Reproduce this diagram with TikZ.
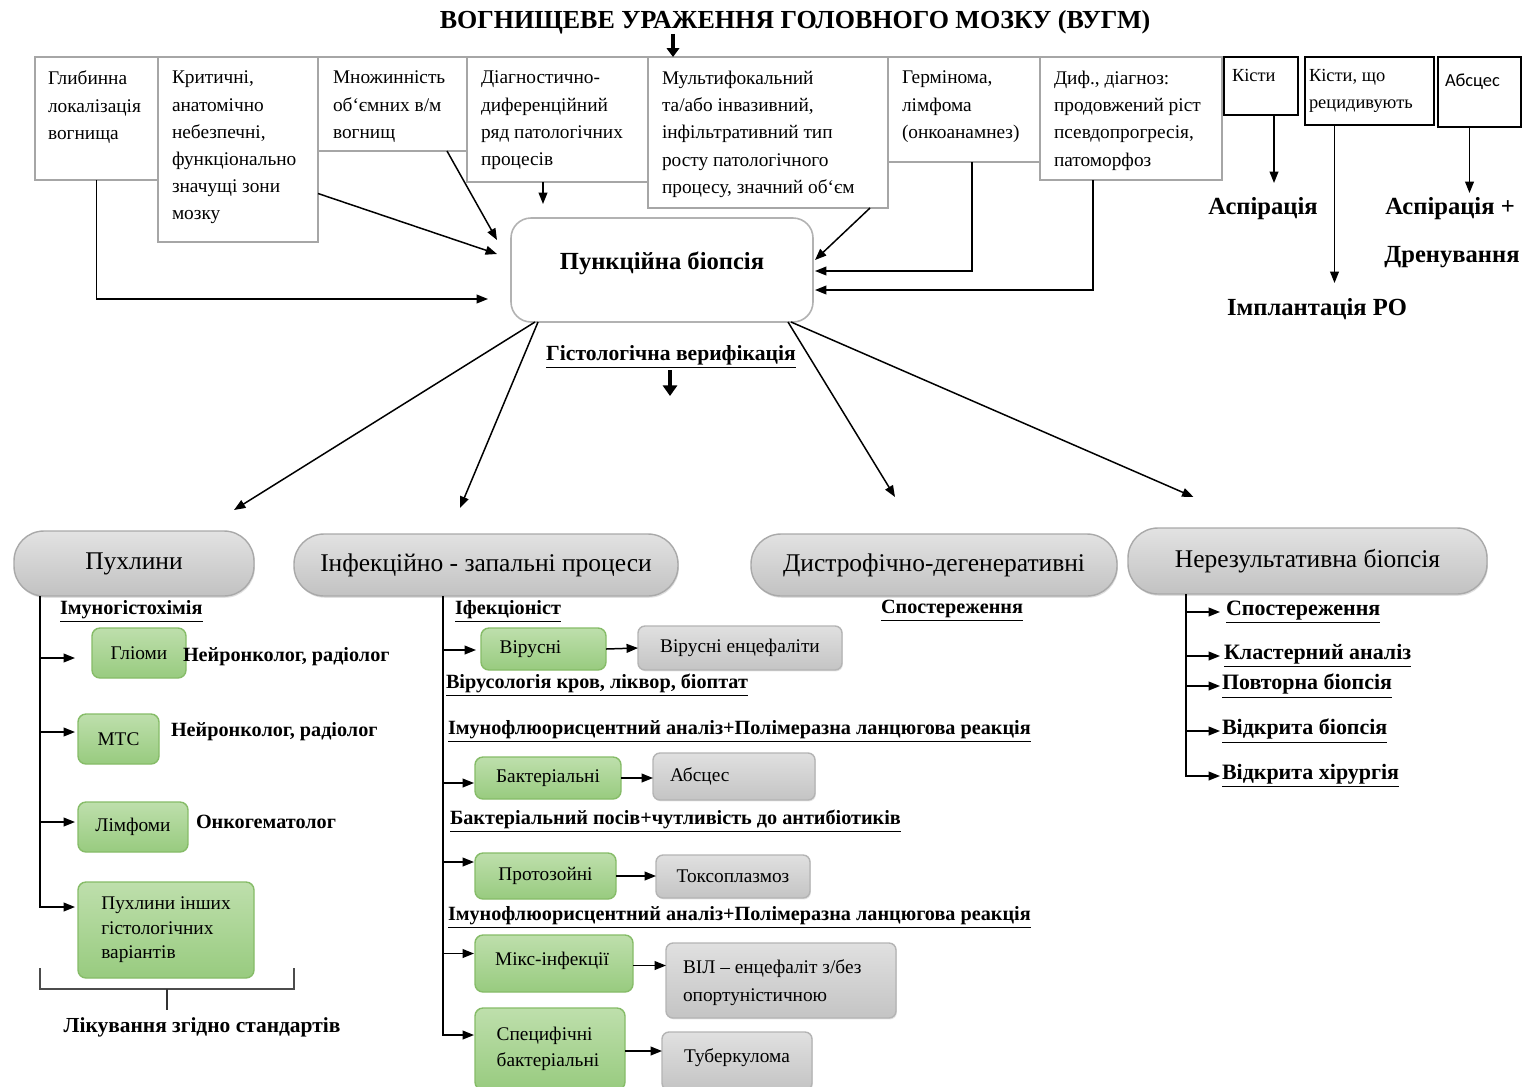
\documentclass[tikz,border=0pt]{standalone}
\usepackage{fontspec}
\setmainfont{Liberation Serif}
\newfontfamily\calibfont{Carlito}
\usetikzlibrary{arrows.meta,calc,fit,shadows}
\definecolor{gtop}{HTML}{BEDFAC}
\definecolor{gbot}{HTML}{98CB7F}
\definecolor{gdraw}{HTML}{86BC68}
\definecolor{stop}{HTML}{E0E0E0}
\definecolor{sbot}{HTML}{C4C4C4}
\definecolor{sdraw}{HTML}{B4B4B4}
\definecolor{ptop}{HTML}{E2E2E2}
\definecolor{pbot}{HTML}{C2C2C2}
\definecolor{pdraw}{HTML}{A9A9A9}
\definecolor{bxdraw}{HTML}{A6A6A6}
\begin{document}
\begin{tikzpicture}[x=0.02cm,y=-0.02cm,
  every node/.style={inner sep=0pt, outer sep=0pt},
  topbox/.style={draw=bxdraw, line width=0.9pt, fill=white},
  blkbox/.style={draw=black, line width=1pt, fill=white},
  btxt/.style={anchor=north west, align=left, font=\fontsize{11}{15.5}\selectfont},
  conn/.style={line width=0.85pt, -{Triangle[length=6.5pt,width=5pt]}},
  plain/.style={line width=0.85pt},
  fat/.style={line width=2.2pt, -{Triangle[length=5pt,width=7pt]}},
  big/.style={font=\fontsize{14}{17}\selectfont\bfseries},
  pill/.style={draw=pdraw, line width=0.8pt, top color=ptop, bottom color=pbot, rounded corners=0.6cm, drop shadow={opacity=0.25,shadow xshift=0.5pt,shadow yshift=-1pt}},
  ptxt/.style={font=\fontsize{14.5}{17}\selectfont},
  gbox/.style={draw=gdraw, line width=0.8pt, top color=gtop, bottom color=gbot, rounded corners=0.16cm},
  sbox/.style={draw=sdraw, line width=0.8pt, top color=stop, bottom color=sbot, rounded corners=0.14cm, drop shadow={opacity=0.2,shadow xshift=0.5pt,shadow yshift=-0.8pt}},
  ulab/.style={font=\fontsize{11.5}{14}\selectfont\bfseries, anchor=west},
  rlab/.style={font=\fontsize{12.5}{15}\selectfont\bfseries, anchor=west},
  txt/.style={font=\fontsize{11}{15.5}\selectfont, align=left}
]
\useasboundingbox (0,0) rectangle (1527,1086);
\fill[white] (0,0) rectangle (1527,1086);

% title
\node[font=\fontsize{14.8}{17}\selectfont\bfseries] (title) at (795,22) {ВОГНИЩЕВЕ УРАЖЕННЯ ГОЛОВНОГО МОЗКУ (ВУГМ)};

% top boxes
\node[topbox, fit={(35,57) (158,180)}] (b1) {};
\node[topbox, fit={(158,57) (318,242)}] (b2) {};
\node[topbox, fit={(318,57) (467,151)}] (b3) {};
\node[topbox, fit={(467,57) (648,182)}] (b4) {};
\node[topbox, fit={(648,57) (888,208)}] (b5) {};
\node[topbox, fit={(888,57) (1040,162)}] (b6) {};
\node[topbox, fit={(1040,57) (1222,180)}] (b7) {};
\node[blkbox, fit={(1224,57) (1298,115)}] (b8) {};
\node[blkbox, fit={(1305,57) (1434,125)}] (b9) {};
\node[blkbox, fit={(1438,57) (1521,127)}] (b10) {};

\node[btxt] at ($(b1.north west)+(13,14)$) {Глибинна\\локалізація\\вогнища};
\node[btxt] at ($(b2.north west)+(14,14)$) {Критичні,\\анатомічно\\небезпечні,\\функціонально\\значущі зони\\мозку};
\node[btxt] at ($(b3.north west)+(15,14)$) {Множинність\\об`ємних в/м\\вогнищ};
\node[btxt] at ($(b4.north west)+(14,14)$) {Діагностично-\\диференційний\\ряд патологічних\\процесів};
\node[btxt] at ($(b5.north west)+(14,14)$) {Мультифокальний\\та/або інвазивний,\\інфільтративний тип\\росту патологічного\\процесу, значний об`єм};
\node[btxt] at ($(b6.north west)+(14,14)$) {Гермінома,\\лімфома\\(онкоанамнез)};
\node[btxt] at ($(b7.north west)+(14,14)$) {Диф., діагноз:\\продовжений ріст\\псевдопрогресія,\\патоморфоз};
\node[btxt, font=\fontsize{10.5}{15}\selectfont] at ($(b8.north west)+(8,12)$) {Кісти};
\node[btxt, font=\fontsize{10.5}{15.5}\selectfont] at ($(b9.north west)+(4,12)$) {Кісти, що\\рецидивують};
\node[btxt, font=\fontsize{10.5}{15}\calibfont] at ($(b10.north west)+(7,17)$) {Абсцес};

\coordinate (ta) at (673,35);
\draw[fat] (title.south -| ta) -- (ta |- b5.north);

% punction box
\node[draw=black!30, line width=0.9pt, fill=white, rounded corners=0.4cm, fit={(511,218) (813,322)}] (pb) {};
\node[big] (pbl) at (662,263) {Пункційна біопсія};

\draw[conn] (b1.south) |- ($(pb.west)+(-23,29)$);
\draw[conn] ($(b2.east)+(0,44)$) -- ($(pb.west)+(-14,-16)$);
\draw[conn] ($(b3.south east)+(-20,0)$) -- ($(pb.west)+(-14,-30)$);
\draw[conn] ($(b4.south)+(-14.5,0)$) -- ($(b4.south)+(-14.5,22)$);
\draw[conn] ($(b5.south east)+(-18,0)$) -- ($(pb.east)+(2,-10)$);
\draw[conn] ($(b6.south)+(8,0)$) |- ($(pb.east)+(2,1)$);
\draw[conn] ($(b7.south)+(-38,0)$) |- ($(pb.east)+(2,20)$);

% right actions
\node[big] (asp1) at (1263,209) {Аспірація};
\node[big] (impl) at (1317,309) {Імплантація РО};
\node[big] (asp2) at (1450,209) {Аспірація +};
\node[big] (dren) at (1452,257) {Дренування};
\draw[conn] ($(b8.south)+(13,0)$) -- ($(b8.south)+(13,68)$);
\draw[conn] ($(b9.south)+(-35,0)$) -- ($(b9.south)+(-35,158)$);
\draw[conn] ($(b10.south)+(-10,0)$) -- ($(b10.south)+(-10,66)$);

% histology
\node[font=\fontsize{12.3}{14}\selectfont\bfseries] (hist) at (671,357) {\underline{Гістологічна верифікація}};
\coordinate (ha) at (670,370);
\draw[line width=2.8pt, -{Triangle[length=6pt,width=8pt]}] (ha) -- ++(0,26);

% pills
\node[pill, fit={(14,531) (254,596)}] (p1) {};
\node[ptxt] at (p1.center) {Пухлини};
\node[pill, fit={(294,534) (678,596)}] (p2) {};
\node[ptxt] at (p2.center) {Інфекційно - запальні процеси};
\node[pill, fit={(751,534) (1117,596)}] (p3) {};
\node[ptxt] at (p3.center) {Дистрофічно-дегенеративні};
\node[pill, fit={(1128,528) (1487,594)}] (p4) {};
\node[ptxt] at (p4.center) {Нерезультативна біопсія};

\draw[conn] ($(pb.south west)+(24,0)$) -- ($(p1.north)+(100,-21)$);
\draw[conn] ($(pb.south west)+(27,0)$) -- ($(p2.north)+(-26,-26)$);
\draw[conn] ($(pb.south east)+(-25,0)$) -- ($(p3.north)+(-39,-37)$);
\draw[conn] ($(pb.south east)+(-22,0)$) -- ($(p4.north)+(-114,-31)$);

% ---- left column
\node[ulab] (imh) at (60,611) {\underline{Імуногістохімія}};
\node[gbox, fit={(92,628) (186,678)}] (g1) {};
\node[txt] at (g1.center) {Гліоми};
\node[gbox, fit={(78,714) (159,764)}] (g2) {};
\node[txt] at (g2.center) {МТС};
\node[gbox, fit={(78,802) (188,852)}] (g3) {};
\node[txt] at (g3.center) {Лімфоми};
\node[gbox, fit={(78,882) (254,978)}] (g4) {};
\node[txt, font=\fontsize{11}{14}\selectfont] at (g4.center) {Пухлини інших\\гістологічних\\варіантів};
\node[ulab] (d1) at (183,657) {Нейронколог, радіолог};
\node[ulab] (d2) at (171,732) {Нейронколог, радіолог};
\node[ulab] (d3) at (196,822) {Онкогематолог};

\coordinate (vl1) at ($(p1.south west)+(26,0)$);
\coordinate (t1) at ($(g1.west)+(-17,5)$);
\coordinate (t2) at ($(g2.west)+(-3,-7)$);
\coordinate (t3) at ($(g3.west)+(-3,-5)$);
\coordinate (t4) at ($(g4.west)+(-3,-23)$);
\draw[conn] (vl1) |- (t4);
\draw[conn] (vl1 |- t1) -- (t1);
\draw[conn] (vl1 |- t2) -- (t2);
\draw[conn] (vl1 |- t3) -- (t3);

\draw[line width=1.2pt, draw=black!70] (40,968) -- (40,989) -- (294,989) -- (294,968);
\draw[line width=1pt, draw=black!80] (167,989) -- (167,1010);
\node[font=\fontsize{12.2}{14}\selectfont\bfseries] (lik) at (202,1027) {Лікування згідно стандартів};

% ---- middle column
\node[ulab] (inf) at (455,611) {\underline{Іфекціоніст}};
\node[gbox, fit={(481,628) (606,670)}] (v1) {};
\node[txt] at ($(v1.center)+(-13,0)$) {Вірусні};
\node[sbox, fit={(638,626) (842,670)}] (v2) {};
\node[txt] at (v2.center) {Вірусні енцефаліти};
\node[ulab] (l1) at (446,685) {\underline{Вірусологія кров, ліквор, біоптат}};
\node[ulab] (l2) at (448,731) {\underline{Імунофлюорисцентний аналіз+Полімеразна ланцюгова реакція}};
\node[gbox, fit={(475,757) (621,799)}] (bak) {};
\node[txt] at (bak.center) {Бактеріальні};
\node[sbox, fit={(653,753) (815,800)}] (abs) {};
\node[txt, anchor=west] at ($(abs.west)+(17,0)$) {Абсцес};
\node[ulab] (l3) at (450,821) {\underline{Бактеріальний посів+чутливість до антибіотиків}};
\node[gbox, fit={(475,853) (616,899)}] (pr) {};
\node[txt] at (pr.center) {Протозойні};
\node[sbox, fit={(656,855) (810,898)}] (tox) {};
\node[txt] at (tox.center) {Токсоплазмоз};
\node[ulab] (l4) at (448,917) {\underline{Імунофлюорисцентний аналіз+Полімеразна ланцюгова реакція}};
\node[gbox, fit={(475,935) (633,992)}] (mx) {};
\node[txt] at ($(mx.center)+(-2,-3)$) {Мікс-інфекції};
\node[sbox, fit={(666,943) (896,1018)}] (vil) {};
\node[txt, anchor=west, font=\fontsize{11}{16}\selectfont] at ($(vil.west)+(17,2)$) {ВІЛ – енцефаліт з/без\\опортуністичною};
\node[gbox, fit={(475,1008) (625,1090)}] (sp) {};
\node[txt, font=\fontsize{11}{14.5}\selectfont] at ($(sp.center)+(-2,0)$) {Специфічні\\бактеріальні};
\node[sbox, fit={(662,1032) (812,1090)}] (tub) {};
\node[txt] at ($(tub.center)+(0,-3)$) {Туберкулома};

\coordinate (vl2) at ($(p2.south west)+(149,0)$);
\coordinate (t5) at ($(v1.west)+(-5,1)$);
\coordinate (t6) at ($(bak.west)+(-1,5)$);
\coordinate (t7) at ($(pr.west)+(-1,-14)$);
\coordinate (t8) at ($(mx.west)+(-1,-10)$);
\coordinate (t9) at ($(sp.west)+(-1,-14)$);
\draw[conn] (vl2) |- (t9);
\draw[conn] (vl2 |- t5) -- (t5);
\draw[conn] (vl2 |- t6) -- (t6);
\draw[conn] (vl2 |- t7) -- (t7);
\draw[conn] (vl2 |- t8) -- (t8);

\draw[conn] (v1.east) -- (v2.west);
\draw[conn] (bak.east) -- (bak.east -| abs.west);
\draw[conn] (pr.east) -- (pr.east -| tox.west);
\draw[conn] ($(mx.east)+(0,2)$) -- ($(mx.east -| vil.west)+(0,2)$);
\draw[conn] ($(sp.east)+(0,2)$) -- ($(sp.east -| tub.west)+(0,2)$);

% ---- dystrophic
\node[font=\fontsize{11.5}{14}\selectfont\bfseries] (obs1) at (952,611) {\underline{Спостереження}};

% ---- right column
\node[rlab] (r1) at (1226,612) {\underline{Спостереження}};
\node[rlab] (r2) at (1224,656) {\underline{Кластерний аналіз}};
\node[rlab] (r3) at (1222,686) {\underline{Повторна біопсія}};
\node[rlab] (r4) at (1222,731) {\underline{Відкрита біопсія}};
\node[rlab] (r5) at (1222,776) {\underline{Відкрита хірургія}};
\coordinate (vl4) at ($(p4.south west)+(58,0)$);
\draw[conn] (vl4) |- ($(r5.west)+(-2,0)$);
\draw[conn] (vl4 |- r1.west) -- ($(r1.west)+(-6,0)$);
\draw[conn] (vl4 |- r2.west) -- ($(r2.west)+(-4,0)$);
\draw[conn] (vl4 |- r3.west) -- ($(r3.west)+(-2,0)$);
\draw[conn] (vl4 |- r4.west) -- ($(r4.west)+(-2,0)$);
\end{tikzpicture}
\end{document}
